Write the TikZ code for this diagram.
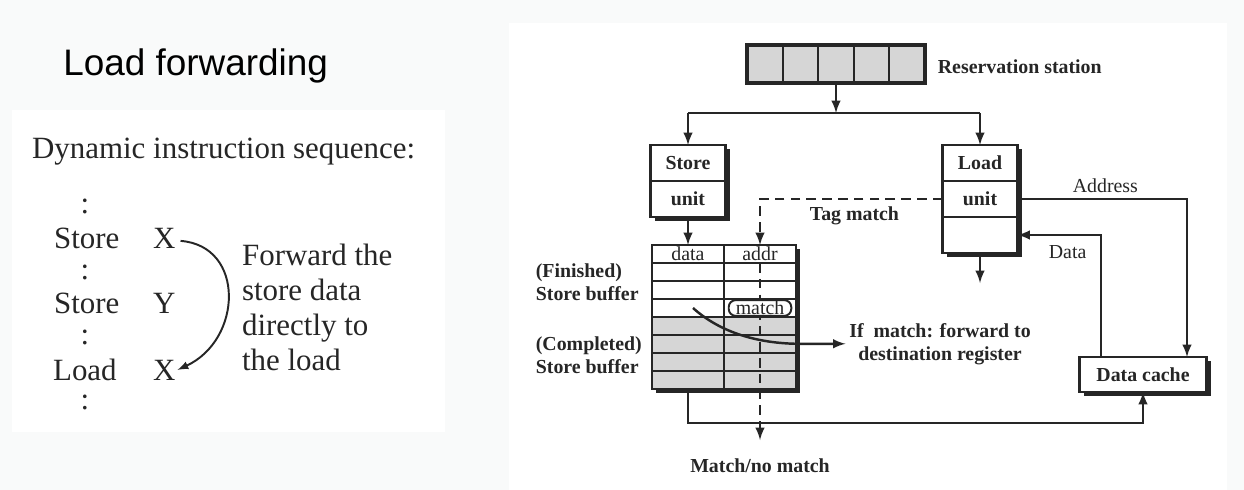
\documentclass[tikz,border=0pt]{standalone}
\usepackage{fontspec}
\setmainfont{Liberation Serif}
\newfontfamily\titlefont{Liberation Sans}
\usepackage{tikz}
\usetikzlibrary{arrows}
\usetikzlibrary{positioning}
\usetikzlibrary{shadows}
\definecolor{ink}{RGB}{38,38,38}
\definecolor{paper}{RGB}{249,250,250}
\definecolor{dotfill}{RGB}{214,214,214}
\tikzstyle{wire}=[draw=ink, line width=1.4pt]
\tikzstyle{tagline}=[draw=ink, line width=1.4pt, dash pattern=on 5.5pt off 3.5pt]
\tikzstyle{lbl}=[text=ink, inner sep=2pt, font=\fontsize{11.3}{13}\selectfont\bfseries]
\tikzstyle{txt}=[text=ink, inner sep=2pt, font=\fontsize{11.3}{13}\selectfont]
\tikzstyle{seq}=[text=ink, inner sep=1pt, font=\fontsize{17.6}{19.8}\selectfont]
\tikzstyle{shadowed}=[drop shadow={shadow xshift=2.3pt, shadow yshift=-2.3pt, fill=ink, opacity=1}]
\tikzstyle{ucell}=[lbl, draw=ink, line width=1.4pt, fill=white, outer sep=0pt, inner sep=0pt, minimum width=1.5cm, minimum height=0.72cm, shadowed]
\tikzstyle{sbcell}=[txt, draw=ink, line width=1.1pt, fill=white, outer sep=0pt, inner sep=0pt, minimum width=1.44cm, minimum height=0.36cm, shadowed]
\tikzstyle{rscell}=[draw=ink, line width=1.1pt, fill=dotfill, outer sep=0pt, minimum width=0.712cm, minimum height=0.76cm]

\begin{document}
\begin{tikzpicture}[x=0.02cm, y=-0.02cm]
    \fill[paper] (0,0) rectangle (1244,490);
    \fill[white] (12,110) rectangle (445,432);
    \fill[white] (509,23) rectangle (1227,490);

    \node[anchor=base west, inner sep=0pt, font=\titlefont\fontsize{21}{25}\selectfont] (title) at (63,75) {Load forwarding};

    % instruction sequence
    \node[seq, anchor=base west] (dis) at (30,158) {Dynamic instruction sequence:};
    \foreach \y [count=\i] in {213,279,344,409}
        \node[seq, anchor=base] (dots\i) at (85,\y) {:};
    \node[seq, anchor=base west] (s1) at (52,248) {Store};
    \node[seq, anchor=base west] (x1) at (151,248) {X};
    \node[seq, anchor=base west] (s2) at (52,313) {Store};
    \node[seq, anchor=base west] (y2) at (151,313) {Y};
    \node[seq, anchor=base west] (l3) at (51,380) {Load};
    \node[seq, anchor=base west] (x3) at (151,380) {X};
    \draw[ink, line width=1.1pt, -latex] ([shift={(3,3)}]x1.east) .. controls +(65,5) and +(65,-30) .. (x3.east);
    \node[seq, anchor=base west, align=left] (fwd) at (240,370) {Forward the\\store data\\directly to\\the load};

    % reservation station
    \foreach \i in {1,...,5}
        \node[rscell] (rs\i) at ({747+35.6*\i-17.8},64) {};
    \draw[ink, line width=2.2pt] (rs1.north west) rectangle (rs5.south east);
    \node[lbl, anchor=base west] (rslbl) at (934,73) {Reservation station};

    % store and load units
    \node[ucell] (st1) at (688,163) {Store};
    \node[ucell, below=0pt of st1] (st2) {unit};
    \node[ucell] (ld1) at (980,163) {Load};
    \node[ucell, below=0pt of ld1] (ld2) {unit};
    \node[ucell, below=0pt of ld2] (ld3) {};

    % store buffer
    \node[sbcell] (sb-0-0) at (688,254) {data};
    \node[sbcell] (sb-0-1) at (760,254) {addr};
    \foreach \r in {1,2,3}
        \foreach \c in {0,1}
            \node[sbcell] (sb-\r-\c) at ({688+72*\c},{254+18*\r}) {};
    \foreach \r in {4,...,7}
        \foreach \c in {0,1}
            \node[sbcell, fill=dotfill] (sb-\r-\c) at ({688+72*\c},{254+18*\r}) {};
    \draw[ink, line width=1.6pt] (sb-0-0.north west) rectangle (sb-7-1.south east);

    \node[ucell, minimum width=2.54cm, minimum height=0.7cm] (dc) at (1143,374.5) {Data cache};

    \coordinate (split) at (836,113);
    \coordinate (ldout) at (980,283);
    \coordinate (mnm) at (760,440);
    \coordinate (hit) at (693,308);

    \draw[wire, -latex] (rs3.south) -- (split);
    \draw[wire] (split -| st1.north) -- (split -| ld1.north);
    \draw[wire, -latex] (split -| st1.north) -- (st1.north);
    \draw[wire, -latex] (split -| ld1.north) -- (ld1.north);
    \draw[wire, -latex] (st2.south) -- (sb-0-0.north);
    \draw[wire, -latex] (ld3.south) -- (ldout);

    \draw[tagline, -latex] (ld2.west) -| (sb-0-1.north);
    \draw[tagline, -latex] (sb-0-1.south) -- (mnm);
    \node[txt, draw=ink, line width=1.1pt, fill=white, rounded corners=0.14cm, inner xsep=4pt, inner ysep=0.5pt] (match) at (760,308) {match};

    \draw[wire, -latex] (ld2.east) -| ([xshift=0.88cm]dc.north);
    \draw[wire, -latex] ([xshift=-0.84cm]dc.north) |- (ld3.east);
    \draw[wire, -latex] (sb-7-0.south) -- ++(0,34) -| (dc.south);

    \node[lbl, anchor=base, align=center] (ifm) at (940,360) {If\ \ match: forward to\\destination register};
    \draw[wire, -latex] (hit) .. controls (722,334) and (760,343) .. (sb-5-1.east |- ifm.west) -- (ifm.west);

    \node[lbl, anchor=base west] (tag) at (806,220) {Tag match};
    \node[txt, anchor=base west] (addr) at (1069,192) {Address};
    \node[txt, anchor=base west] (dlbl) at (1045,258) {Data};
    \node[lbl, anchor=base west, align=left] (fin) at (532,300) {(Finished)\\Store buffer};
    \node[lbl, anchor=base west, align=left] (cmp) at (532,373) {(Completed)\\Store buffer};
    \node[lbl, anchor=base] (nomatch) at (760,472) {Match/no match};
\end{tikzpicture}
\end{document}
